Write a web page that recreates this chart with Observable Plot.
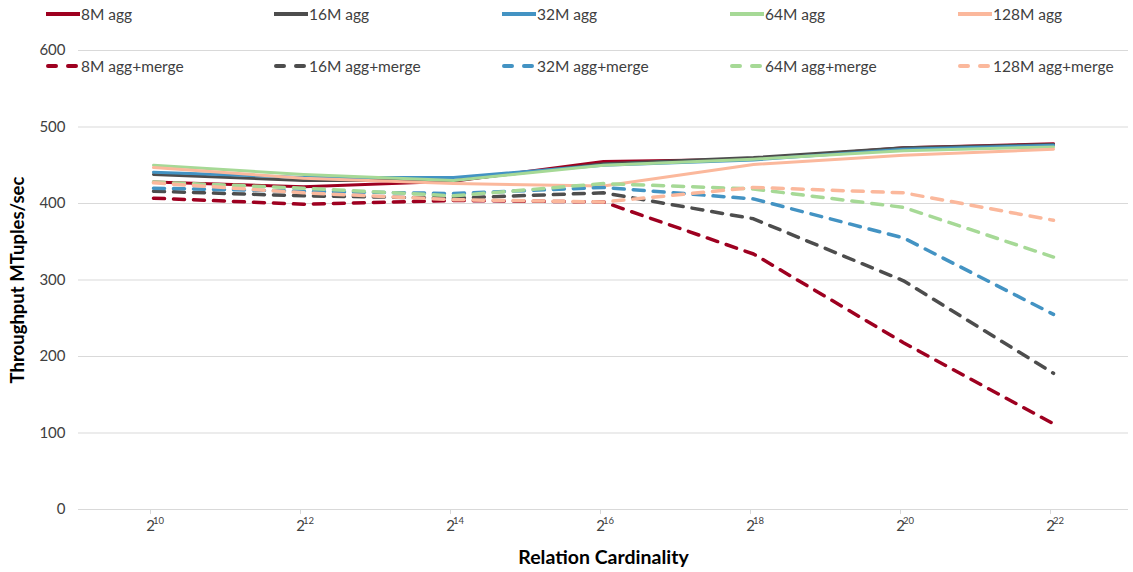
<!DOCTYPE html>
<html>
<head>
<meta charset="utf-8">
<script src="https://cdn.jsdelivr.net/npm/d3@7"></script>
<script src="https://cdn.jsdelivr.net/npm/@observablehq/plot@0.6"></script>
<style>
  html, body { margin: 0; padding: 0; background: #fff; }
  #wrap { position: relative; width: 1133px; height: 572px; font-family: Lato, sans-serif; }
  #legend { position: absolute; left: 0; top: 0; width: 1133px; height: 80px; pointer-events: none; }
  .item { position: absolute; display: flex; align-items: center; font-size: 15.5px; color: #404040; white-space: nowrap; }
  .item svg { margin-right: 0px; }
  svg [aria-label="y-axis label"] text { font-weight: bold; font-size: 18.5px; fill: #000; }
  svg [aria-label="x-axis label"] text { font-weight: bold; font-size: 19.5px; fill: #000; }
</style>
</head>
<body>
<div id="wrap"><div id="legend"></div></div>
<script>
// x positions: relation cardinality exponents (2^k)
const exponents = [10, 12, 14, 16, 18, 20, 22];
const seriesNames = ["8M agg", "16M agg", "32M agg", "64M agg", "128M agg",
                     "8M agg+merge", "16M agg+merge", "32M agg+merge", "64M agg+merge", "128M agg+merge"];
const seriesColors = ["#9e0020", "#4d4d4d", "#4393c3", "#a6d996", "#fbb89c",
                      "#9e0020", "#4d4d4d", "#4393c3", "#a6d996", "#fbb89c"];
// values (MTuples/sec)
const agg8   = [428, 422, 429, 455, 458, 473, 478];
const agg16  = [438, 430, 430, 452, 460, 473, 477];
const agg32  = [441, 434, 434, 450, 457, 471, 476];
const agg64  = [450, 438, 430, 450, 458, 469, 474];
const agg128 = [447, 433, 426, 423, 451, 463, 471];
const merge8   = [407, 399, 404, 402, 334, 218, 112];
const merge16  = [416, 410, 407, 414, 380, 299, 178];
const merge32  = [420, 416, 413, 421, 406, 355, 255];
const merge64  = [428, 420, 410, 426, 419, 395, 330];
const merge128 = [427, 414, 405, 402, 421, 414, 378];
const yTicks = [0, 100, 200, 300, 400, 500, 600];

const solidSeries = [agg8, agg16, agg32, agg64, agg128];
const dashedSeries = [merge8, merge16, merge32, merge64, merge128];
const solidRows = solidSeries.flatMap((vals, i) => vals.map((v, j) => ({series: seriesNames[i], x: exponents[j], y: v})));
const dashedRows = dashedSeries.flatMap((vals, i) => vals.map((v, j) => ({series: seriesNames[i + 5], x: exponents[j], y: v})));

const chart = Plot.plot({
  width: 1133,
  height: 572,
  marginTop: 50,
  marginBottom: 63,
  marginLeft: 78,
  marginRight: 5,
  style: {fontFamily: 'Lato, sans-serif', fontSize: "15px", color: "#404040", background: "transparent"},
  x: {type: "point", domain: exponents, padding: 0.5},
  y: {domain: [0, 600]},
  color: {domain: seriesNames, range: seriesColors},
  marks: [
    Plot.gridY(yTicks, {stroke: "#d9d9d9", strokeOpacity: 1, strokeWidth: 1}),
    Plot.axisY(yTicks, {tickSize: 0, tickPadding: 13, label: "Throughput MTuples/sec", labelAnchor: "center", labelArrow: "none", labelOffset: 68}),
    Plot.axisX({tickSize: 5, stroke: "#d9d9d9", tickPadding: 6, tickFormat: () => "2", dx: -3, label: "Relation Cardinality", labelAnchor: "center", labelArrow: "none", labelOffset: 54}),
    Plot.axisX({tickSize: 0, tickPadding: 6, tickFormat: d => String(d), fontSize: 9.5, dx: 5, dy: 2, label: null}),
    Plot.line(solidRows, {x: "x", y: "y", z: "series", stroke: "series", strokeWidth: 3, strokeLinejoin: "round"}),
    Plot.line(dashedRows, {x: "x", y: "y", z: "series", stroke: "series", strokeWidth: 3.5, strokeDasharray: "11,9", strokeLinecap: "round", strokeLinejoin: "round"})
  ]
});
document.getElementById("wrap").appendChild(chart);
chart.style.position = "absolute";
chart.style.left = "0";
chart.style.top = "0";

// legend overlay
const legend = document.getElementById("legend");
seriesNames.forEach((name, i) => {
  const col = i % 5, row = Math.floor(i / 5);
  const div = document.createElement("div");
  div.className = "item";
  div.style.left = (45 + 228 * col) + "px";
  div.style.top = (row === 0 ? 5 : 57) + "px";
  const dashed = row === 1;
  const sw = dashed
    ? `<svg width="36" height="18"><line x1="3" y1="9" x2="33" y2="9" stroke="${seriesColors[i]}" stroke-width="4" stroke-dasharray="8,12" stroke-linecap="round"/></svg>`
    : `<svg width="36" height="18"><line x1="1" y1="9" x2="35" y2="9" stroke="${seriesColors[i]}" stroke-width="4"/></svg>`;
  div.innerHTML = sw + `<span>${name}</span>`;
  legend.appendChild(div);
});
</script>
</body>
</html>
